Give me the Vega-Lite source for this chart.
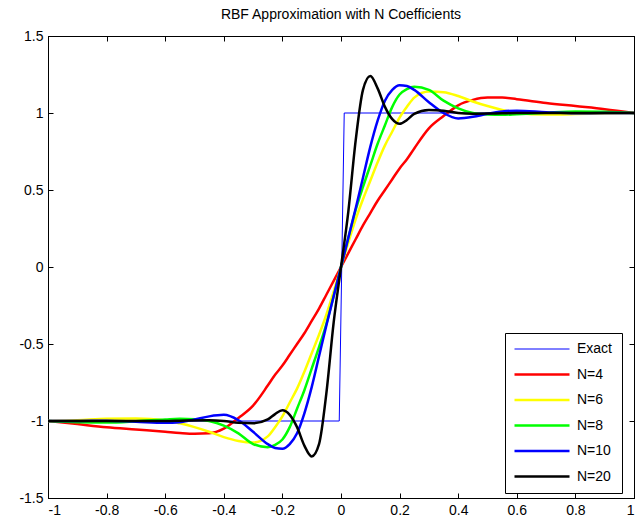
{
  "$schema": "https://vega.github.io/schema/vega-lite/v6.json",
  "width": 586,
  "height": 462,
  "autosize": {"type": "none"},
  "padding": {"left": 48, "top": 36, "right": 2, "bottom": 25},
  "background": "white",
  "title": {"text": "RBF Approximation with N Coefficients", "font": "Liberation Sans", "fontSize": 14, "fontWeight": "normal", "color": "black", "anchor": "middle", "offset": 7},
  "datasets": {
    "exact": [
      {"x": -1, "series": "Exact", "y": -1},
      {"x": -0.006, "series": "Exact", "y": -1},
      {"x": 0.011, "series": "Exact", "y": 1},
      {"x": 1, "series": "Exact", "y": 1}
    ],
    "approx": [
      {"x": -1, "N=4": -1, "N=6": -1, "N=8": -1, "N=10": -1, "N=20": -1},
      {"x": -0.9, "N=4": -1.02, "N=6": -0.995, "N=8": -1.008, "N=10": -1, "N=20": -1},
      {"x": -0.8, "N=4": -1.04, "N=6": -0.985, "N=8": -1.01, "N=10": -0.998, "N=20": -1},
      {"x": -0.7, "N=4": -1.055, "N=6": -0.983, "N=8": -1.002, "N=10": -1.005, "N=20": -1},
      {"x": -0.6, "N=4": -1.07, "N=6": -0.995, "N=8": -0.99, "N=10": -1.012, "N=20": -1},
      {"x": -0.55, "N=4": -1.078, "N=6": -1.015, "N=8": -0.985, "N=10": -1.008, "N=20": -0.998},
      {"x": -0.5, "N=4": -1.083, "N=6": -1.04, "N=8": -0.988, "N=10": -0.99, "N=20": -0.996},
      {"x": -0.45, "N=4": -1.08, "N=6": -1.07, "N=8": -1.0, "N=10": -0.97, "N=20": -0.995},
      {"x": -0.4, "N=4": -1.05, "N=6": -1.105, "N=8": -1.03, "N=10": -0.96, "N=20": -1.0},
      {"x": -0.35, "N=4": -0.98, "N=6": -1.13, "N=8": -1.08, "N=10": -0.995, "N=20": -1.012},
      {"x": -0.3, "N=4": -0.9, "N=6": -1.14, "N=8": -1.15, "N=10": -1.07, "N=20": -1.015},
      {"x": -0.25, "N=4": -0.77, "N=6": -1.1, "N=8": -1.17, "N=10": -1.15, "N=20": -0.99},
      {"x": -0.225, "N=4": -0.7, "N=6": -1.04, "N=8": -1.155, "N=10": -1.175, "N=20": -0.955},
      {"x": -0.2, "N=4": -0.64, "N=6": -0.97, "N=8": -1.12, "N=10": -1.18, "N=20": -0.93},
      {"x": -0.175, "N=4": -0.57, "N=6": -0.88, "N=8": -1.04, "N=10": -1.15, "N=20": -0.96},
      {"x": -0.15, "N=4": -0.5, "N=6": -0.79, "N=8": -0.92, "N=10": -1.08, "N=20": -1.04},
      {"x": -0.125, "N=4": -0.43, "N=6": -0.68, "N=8": -0.8, "N=10": -0.95, "N=20": -1.16},
      {"x": -0.1, "N=4": -0.35, "N=6": -0.56, "N=8": -0.66, "N=10": -0.78, "N=20": -1.23},
      {"x": -0.075, "N=4": -0.27, "N=6": -0.44, "N=8": -0.52, "N=10": -0.58, "N=20": -1.15},
      {"x": -0.05, "N=4": -0.18, "N=6": -0.31, "N=8": -0.37, "N=10": -0.38, "N=20": -0.82},
      {"x": -0.025, "N=4": -0.09, "N=6": -0.16, "N=8": -0.19, "N=10": -0.19, "N=20": -0.36},
      {"x": 0, "N=4": 0, "N=6": 0, "N=8": 0, "N=10": 0, "N=20": 0},
      {"x": 0.025, "N=4": 0.09, "N=6": 0.16, "N=8": 0.19, "N=10": 0.19, "N=20": 0.36},
      {"x": 0.05, "N=4": 0.18, "N=6": 0.31, "N=8": 0.37, "N=10": 0.38, "N=20": 0.82},
      {"x": 0.075, "N=4": 0.27, "N=6": 0.44, "N=8": 0.52, "N=10": 0.58, "N=20": 1.15},
      {"x": 0.1, "N=4": 0.35, "N=6": 0.56, "N=8": 0.66, "N=10": 0.78, "N=20": 1.24},
      {"x": 0.125, "N=4": 0.43, "N=6": 0.68, "N=8": 0.8, "N=10": 0.95, "N=20": 1.16},
      {"x": 0.15, "N=4": 0.5, "N=6": 0.79, "N=8": 0.92, "N=10": 1.08, "N=20": 1.04},
      {"x": 0.175, "N=4": 0.57, "N=6": 0.88, "N=8": 1.04, "N=10": 1.15, "N=20": 0.96},
      {"x": 0.2, "N=4": 0.64, "N=6": 0.97, "N=8": 1.12, "N=10": 1.18, "N=20": 0.93},
      {"x": 0.225, "N=4": 0.7, "N=6": 1.04, "N=8": 1.155, "N=10": 1.175, "N=20": 0.955},
      {"x": 0.25, "N=4": 0.77, "N=6": 1.1, "N=8": 1.17, "N=10": 1.15, "N=20": 0.995},
      {"x": 0.3, "N=4": 0.9, "N=6": 1.14, "N=8": 1.15, "N=10": 1.07, "N=20": 1.02},
      {"x": 0.35, "N=4": 0.98, "N=6": 1.135, "N=8": 1.08, "N=10": 1.0, "N=20": 1.015},
      {"x": 0.4, "N=4": 1.05, "N=6": 1.11, "N=8": 1.03, "N=10": 0.965, "N=20": 1.0},
      {"x": 0.45, "N=4": 1.085, "N=6": 1.075, "N=8": 1.0, "N=10": 0.975, "N=20": 0.995},
      {"x": 0.5, "N=4": 1.1, "N=6": 1.045, "N=8": 0.99, "N=10": 0.995, "N=20": 0.996},
      {"x": 0.55, "N=4": 1.1, "N=6": 1.02, "N=8": 0.988, "N=10": 1.01, "N=20": 0.998},
      {"x": 0.6, "N=4": 1.09, "N=6": 1.0, "N=8": 0.992, "N=10": 1.015, "N=20": 1},
      {"x": 0.7, "N=4": 1.065, "N=6": 0.99, "N=8": 1.002, "N=10": 1.005, "N=20": 1},
      {"x": 0.8, "N=4": 1.045, "N=6": 0.993, "N=8": 1.01, "N=10": 0.998, "N=20": 1},
      {"x": 0.9, "N=4": 1.025, "N=6": 0.998, "N=8": 1.008, "N=10": 1, "N=20": 1},
      {"x": 1, "N=4": 1, "N=6": 1, "N=8": 1, "N=10": 1, "N=20": 1}
    ]
  },
  "layer": [
    {
      "data": {"name": "exact"},
      "mark": {"type": "line", "strokeWidth": 1, "clip": true},
      "encoding": {
        "x": {"field": "x", "type": "quantitative", "scale": {"domain": [-1, 1], "nice": false, "zero": false},
              "axis": {"orient": "top", "labels": false, "values": [-1, -0.8, -0.6, -0.4, -0.2, 0, 0.2, 0.4, 0.6, 0.8, 1], "tickSize": -5, "title": null, "grid": false}},
        "y": {"field": "y", "type": "quantitative", "scale": {"domain": [-1.5, 1.5], "nice": false, "zero": false},
              "axis": {"orient": "right", "labels": false, "values": [-1.5, -1, -0.5, 0, 0.5, 1, 1.5], "tickSize": -5, "title": null, "grid": false}},
        "color": {"field": "series", "type": "nominal",
                  "scale": {"domain": ["Exact", "N=4", "N=6", "N=8", "N=10", "N=20"], "range": ["#0000ff", "#ff0000", "#ffff00", "#00ff00", "#0000ff", "#000000"]},
                  "legend": {"title": null, "orient": "none", "legendX": 457, "legendY": 297,
                             "encode": {"symbols": {"update": {"strokeWidth": {"signal": "datum.label === 'Exact' ? 1 : 2.5"}}}}}}
      }
    },
    {
      "data": {"name": "approx"},
      "transform": [{"fold": ["N=4", "N=6", "N=8", "N=10", "N=20"], "as": ["series", "y"]}],
      "mark": {"type": "line", "strokeWidth": 2.5, "interpolate": "monotone", "clip": true},
      "encoding": {
        "x": {"field": "x", "type": "quantitative", "scale": {"domain": [-1, 1], "nice": false, "zero": false},
              "axis": {"orient": "bottom", "values": [-1, -0.8, -0.6, -0.4, -0.2, 0, 0.2, 0.4, 0.6, 0.8, 1], "labelExpr": "'' + datum.value", "tickSize": -5, "labelPadding": 10, "title": null, "grid": false}},
        "y": {"field": "y", "type": "quantitative", "scale": {"domain": [-1.5, 1.5], "nice": false, "zero": false},
              "axis": {"orient": "left", "values": [-1.5, -1, -0.5, 0, 0.5, 1, 1.5], "labelExpr": "'' + datum.value", "tickSize": -5, "labelPadding": 10, "title": null, "grid": false}},
        "color": {"field": "series", "type": "nominal",
                  "scale": {"domain": ["Exact", "N=4", "N=6", "N=8", "N=10", "N=20"], "range": ["#0000ff", "#ff0000", "#ffff00", "#00ff00", "#0000ff", "#000000"]},
                  "legend": {"title": null, "orient": "none", "legendX": 457, "legendY": 297,
                             "encode": {"symbols": {"update": {"strokeWidth": {"signal": "datum.label === 'Exact' ? 1 : 2.5"}}}}}}
      }
    }
  ],
  "resolve": {"axis": {"x": "independent", "y": "independent"}},
  "config": {
    "view": {"stroke": "black", "strokeWidth": 1},
    "axis": {"domainColor": "black", "tickColor": "black", "labelColor": "black", "labelFont": "Liberation Sans", "labelFontSize": 14, "domainWidth": 1, "tickWidth": 1},
    "legend": {
      "strokeColor": "black", "fillColor": "white", "padding": 9,
      "symbolType": "M-2.75,0H2.75", "symbolSize": 400, "symbolStrokeWidth": 2.5,
      "symbolOffset": 21, "labelOffset": 28,
      "labelFont": "Liberation Sans", "labelFontSize": 14, "labelColor": "black",
      "rowPadding": 11.5,
      "symbolOpacity": 1
    }
  }
}
